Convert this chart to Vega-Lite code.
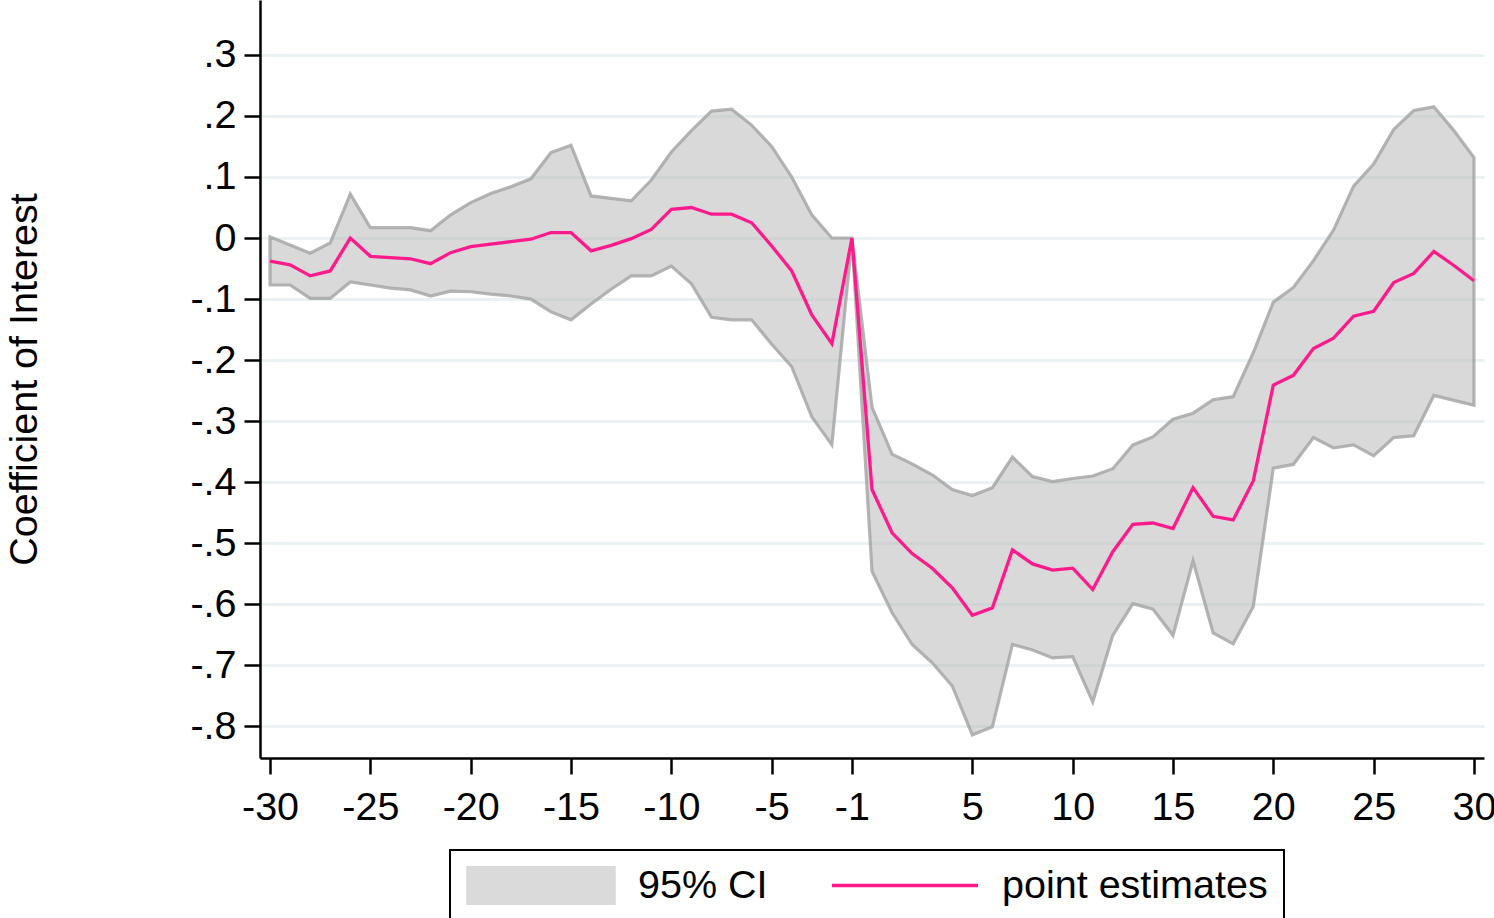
{
  "$schema": "https://vega.github.io/schema/vega-lite/v6.json",
  "width": 1224,
  "height": 758,
  "autosize": {"type": "none"},
  "padding": {"left": 260, "top": 0, "right": 10, "bottom": 160},
  "background": "white",
  "config": {
    "view": {"stroke": null},
    "font": "Liberation Sans",
    "axis": {
      "domainColor": "black", "domainWidth": 2.5,
      "tickColor": "black", "tickWidth": 2.5, "tickSize": 16,
      "labelColor": "black", "labelFontSize": 39.5, "labelFont": "Liberation Sans",
      "titleColor": "black", "titleFontSize": 39.5, "titleFontWeight": "normal", "titleFont": "Liberation Sans"
    }
  },
  "data": {"values": [
    {"t": -30, "est": -0.038, "lo": -0.077, "hi": 0.002},
    {"t": -29, "est": -0.044, "lo": -0.077, "hi": -0.0115},
    {"t": -28, "est": -0.062, "lo": -0.099, "hi": -0.025},
    {"t": -27, "est": -0.054, "lo": -0.099, "hi": -0.008},
    {"t": -26, "est": 0.000, "lo": -0.072, "hi": 0.072},
    {"t": -25, "est": -0.030, "lo": -0.077, "hi": 0.017},
    {"t": -24, "est": -0.032, "lo": -0.082, "hi": 0.017},
    {"t": -23, "est": -0.034, "lo": -0.085, "hi": 0.017},
    {"t": -22, "est": -0.042, "lo": -0.095, "hi": 0.012},
    {"t": -21, "est": -0.024, "lo": -0.087, "hi": 0.038},
    {"t": -20, "est": -0.014, "lo": -0.088, "hi": 0.058},
    {"t": -19, "est": -0.010, "lo": -0.092, "hi": 0.073},
    {"t": -18, "est": -0.006, "lo": -0.095, "hi": 0.084},
    {"t": -17, "est": -0.002, "lo": -0.100, "hi": 0.097},
    {"t": -16, "est": 0.009, "lo": -0.121, "hi": 0.140},
    {"t": -15, "est": 0.009, "lo": -0.134, "hi": 0.152},
    {"t": -14, "est": -0.021, "lo": -0.108, "hi": 0.069},
    {"t": -13, "est": -0.012, "lo": -0.084, "hi": 0.065},
    {"t": -12, "est": -0.001, "lo": -0.062, "hi": 0.061},
    {"t": -11, "est": 0.014, "lo": -0.062, "hi": 0.095},
    {"t": -10, "est": 0.047, "lo": -0.046, "hi": 0.141},
    {"t": -9, "est": 0.050, "lo": -0.075, "hi": 0.176},
    {"t": -8, "est": 0.039, "lo": -0.130, "hi": 0.208},
    {"t": -7, "est": 0.039, "lo": -0.134, "hi": 0.211},
    {"t": -6, "est": 0.025, "lo": -0.134, "hi": 0.185},
    {"t": -5, "est": -0.013, "lo": -0.174, "hi": 0.150},
    {"t": -4, "est": -0.054, "lo": -0.211, "hi": 0.100},
    {"t": -3, "est": -0.126, "lo": -0.293, "hi": 0.038},
    {"t": -2, "est": -0.173, "lo": -0.339, "hi": 0.000},
    {"t": -1, "est": 0.000, "lo": 0.000, "hi": 0.000},
    {"t": 0, "est": -0.412, "lo": -0.546, "hi": -0.277},
    {"t": 1, "est": -0.483, "lo": -0.614, "hi": -0.354},
    {"t": 2, "est": -0.517, "lo": -0.666, "hi": -0.370},
    {"t": 3, "est": -0.541, "lo": -0.696, "hi": -0.388},
    {"t": 4, "est": -0.573, "lo": -0.734, "hi": -0.412},
    {"t": 5, "est": -0.618, "lo": -0.814, "hi": -0.422},
    {"t": 6, "est": -0.606, "lo": -0.801, "hi": -0.409},
    {"t": 7, "est": -0.511, "lo": -0.666, "hi": -0.359},
    {"t": 8, "est": -0.534, "lo": -0.675, "hi": -0.391},
    {"t": 9, "est": -0.544, "lo": -0.688, "hi": -0.399},
    {"t": 10, "est": -0.541, "lo": -0.686, "hi": -0.394},
    {"t": 11, "est": -0.576, "lo": -0.760, "hi": -0.390},
    {"t": 12, "est": -0.514, "lo": -0.651, "hi": -0.378},
    {"t": 13, "est": -0.469, "lo": -0.599, "hi": -0.339},
    {"t": 14, "est": -0.467, "lo": -0.608, "hi": -0.326},
    {"t": 15, "est": -0.476, "lo": -0.651, "hi": -0.297},
    {"t": 16, "est": -0.409, "lo": -0.529, "hi": -0.287},
    {"t": 17, "est": -0.456, "lo": -0.647, "hi": -0.265},
    {"t": 18, "est": -0.462, "lo": -0.665, "hi": -0.260},
    {"t": 19, "est": -0.398, "lo": -0.604, "hi": -0.188},
    {"t": 20, "est": -0.241, "lo": -0.377, "hi": -0.105},
    {"t": 21, "est": -0.225, "lo": -0.371, "hi": -0.081},
    {"t": 22, "est": -0.181, "lo": -0.327, "hi": -0.037},
    {"t": 23, "est": -0.164, "lo": -0.344, "hi": 0.013},
    {"t": 24, "est": -0.128, "lo": -0.339, "hi": 0.085},
    {"t": 25, "est": -0.120, "lo": -0.357, "hi": 0.121},
    {"t": 26, "est": -0.073, "lo": -0.327, "hi": 0.178},
    {"t": 27, "est": -0.058, "lo": -0.324, "hi": 0.209},
    {"t": 28, "est": -0.022, "lo": -0.258, "hi": 0.215},
    {"t": 29, "est": -0.045, "lo": -0.266, "hi": 0.176},
    {"t": 30, "est": -0.070, "lo": -0.274, "hi": 0.132}
  ]},
  "encoding": {
    "x": {
      "field": "t", "type": "quantitative",
      "scale": {"domain": [-30.5, 30.5], "nice": false, "zero": false},
      "axis": {
        "title": null, "grid": false,
        "values": [-30, -25, -20, -15, -10, -5, -1, 5, 10, 15, 20, 25, 30],
        "labelExpr": "(datum.value < 0 ? '-' : '') + format(abs(datum.value), 'd')",
        "labelPadding": 14, "labelFlush": false, "labelOverlap": false
      }
    }
  },
  "layer": [
    {
      "mark": {"type": "area", "fill": "#b4b4b4", "fillOpacity": 0.5, "stroke": "#a3a3a3", "strokeOpacity": 0.8, "strokeWidth": 3.2, "strokeJoin": "miter"},
      "encoding": {
        "y": {
          "field": "lo", "type": "quantitative",
          "scale": {"domain": [-0.852, 0.39], "nice": false, "zero": false},
          "axis": {
            "title": "Coefficient of Interest",
            "values": [-0.8, -0.7, -0.6, -0.5, -0.4, -0.3, -0.2, -0.1, 0, 0.1, 0.2, 0.3],
            "labelExpr": "datum.value == 0 ? '0' : (datum.value < 0 ? '-' : '') + replace(format(abs(datum.value), '.1f'), '0.', '.')",
            "labelPadding": 8, "labelFlush": false, "labelOverlap": false,
            "grid": true, "gridColor": "#eaf2f3", "gridWidth": 3,
            "titleX": -224, "titleY": 379, "titleBaseline": "alphabetic", "titleAngle": -90, "titleAlign": "center"
          }
        },
        "y2": {"field": "hi"},
        "color": {
          "datum": "95% CI",
          "scale": {"domain": ["95% CI", "point estimates"], "range": ["#dadada", "#ff1a8c"]},
          "legend": {
            "title": null,
            "orient": "none",
            "legendX": 190,
            "legendY": 850,
            "direction": "horizontal",
            "padding": 16,
            "strokeColor": "black",
            "clipHeight": 39,
            "symbolSize": 21316,
            "symbolStrokeWidth": 3,
            "labelOffset": 22,
            "columnPadding": 62,
            "labelFontSize": 39.5,
            "labelColor": "black",
            "labelFont": "Liberation Sans",
            "labelLimit": 0,
            "labelExpr": "datum.label === 'point estimates' ? datum.label + '\u00a0' : datum.label",
            "encoding": {
              "legend": {"strokeWidth": {"value": 2}},
              "symbols": {
                "shape": {"condition": {"test": "datum.value === '95% CI'", "value": "M-1,-0.267H1V0.267H-1Z"}, "value": "M-1,0H1"},
                "size": {"value": 21316},
                "fill": {"condition": {"test": "datum.value === '95% CI'", "value": "#dadada"}, "value": "transparent"},
                "stroke": {"condition": {"test": "datum.value === '95% CI'", "value": "#b5b5b5"}, "value": "#ff1a8c"},
                "strokeWidth": {"value": 3.5},
                "opacity": {"value": 1},
                "fillOpacity": {"value": 1},
                "strokeOpacity": {"value": 1}
              }
            }
          }
        }
      }
    },
    {
      "mark": {"type": "rule", "color": "#f5851e", "strokeWidth": 3},
      "encoding": {"y": {"datum": 0}}
    },
    {
      "mark": {"type": "line", "strokeWidth": 3.3},
      "encoding": {
        "y": {"field": "est", "type": "quantitative"},
        "color": {"datum": "point estimates"}
      }
    }
  ]
}
